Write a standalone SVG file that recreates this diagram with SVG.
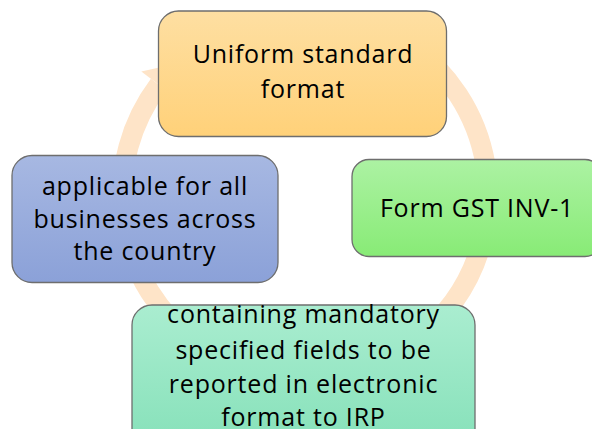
<svg xmlns="http://www.w3.org/2000/svg" width="592" height="429" viewBox="0 0 592 429">
  <defs>
    <linearGradient id="gOrange" x1="0" y1="0" x2="0" y2="1">
      <stop offset="0" stop-color="#fedfa2"/>
      <stop offset="1" stop-color="#ffd179"/>
    </linearGradient>
    <linearGradient id="gBlue" x1="0" y1="0" x2="0" y2="1">
      <stop offset="0" stop-color="#a7b8e2"/>
      <stop offset="1" stop-color="#8ba1d8"/>
    </linearGradient>
    <linearGradient id="gGreen" x1="0" y1="0" x2="0" y2="1">
      <stop offset="0" stop-color="#acf2a3"/>
      <stop offset="1" stop-color="#88eb76"/>
    </linearGradient>
    <linearGradient id="gMint" x1="0" y1="0" x2="0" y2="1">
      <stop offset="0" stop-color="#aaedd0"/>
      <stop offset="1" stop-color="#84e0b8"/>
    </linearGradient>
    <style>
      .box { stroke: #6e6e6e; stroke-width: 1.3; }
      .lbl { font-family: "Open Sans", "Liberation Sans", sans-serif; font-size: 25px; fill: #000; text-anchor: middle; letter-spacing: 0.8px; }
      .ring { fill: none; stroke: #fee4c8; stroke-width: 20; }
      .head { fill: #fee4c8; }
    </style>
  </defs>
  <rect width="592" height="429" fill="#ffffff"/>
  <g id="connectors">
    <path class="ring" d="M 409.97 45.09 A 183 183 0 1 1 158.85 84.87"/>
    <polygon class="head" points="141.3,71.6 176.4,98.1 175,64"/>
  </g>
  <g id="node-top">
    <rect class="box" x="158.5" y="11" width="288" height="125.5" rx="20" fill="url(#gOrange)"/>
    <text class="lbl" x="303" y="63">Uniform standard</text>
    <text class="lbl" x="303" y="98">format</text>
  </g>
  <g id="node-right">
    <rect class="box" x="352" y="159.5" width="250" height="97" rx="17" fill="url(#gGreen)"/>
    <text class="lbl" x="477" y="217">Form GST INV-1</text>
  </g>
  <g id="node-left">
    <rect class="box" x="12" y="155.5" width="266" height="127" rx="20" fill="url(#gBlue)"/>
    <text class="lbl" x="145" y="195">applicable for all</text>
    <text class="lbl" x="145" y="227.5">businesses across</text>
    <text class="lbl" x="145" y="260">the country</text>
  </g>
  <g id="node-bottom">
    <rect class="box" x="132" y="305" width="343" height="150" rx="20" fill="url(#gMint)"/>
    <text class="lbl" x="303.5" y="323">containing mandatory</text>
    <text class="lbl" x="303.5" y="358.5">specified fields to be</text>
    <text class="lbl" x="303.5" y="392.5">reported in electronic</text>
    <text class="lbl" x="303.5" y="425.5">format to IRP</text>
  </g>
</svg>
